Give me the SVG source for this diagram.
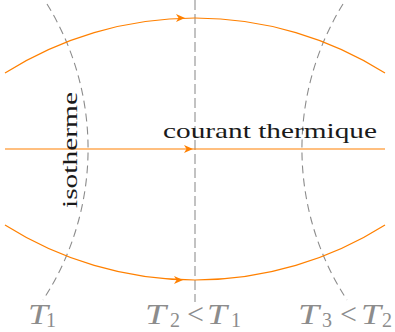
<svg xmlns="http://www.w3.org/2000/svg" width="395" height="332" viewBox="0 0 395 332">
<style>
.flow{fill:none;stroke:#ff8000;stroke-width:1.2}
.iso{fill:none;stroke:#8c8c8c;stroke-width:1.1;stroke-dasharray:8 5}
.mid{fill:none;stroke:#b3b3b3;stroke-width:1.6;stroke-dasharray:10 4}
.lbl{font-family:"Liberation Serif","Times New Roman",serif;font-size:21px;fill:#1a1a1a}
.tl{font-family:"Liberation Serif","Times New Roman",serif;font-size:30px;fill:#8c8c8c}
.ti{font-style:italic}
.sub{font-size:20px}
.head{fill:#ff8000}
</style>
<defs>
<path id="ah" d="M0,0 L-9,-4 L-6.5,0 L-9,4 Z"/>
</defs>
<g id="isotherms">
<path id="iso1" class="iso" d="M47,4 A276,276 0 0 1 43,300"/>
<path id="iso2" class="mid" d="M195,0 L195,302"/>
<path id="iso3" class="iso" d="M343,4 A276,276 0 0 0 347,300"/>
</g>
<g id="connectors">
<path class="flow" d="M5,73 A355.7,355.7 0 0 1 385,73"/>
<path class="flow" d="M5,149 L385,149"/>
<path class="flow" d="M5,225 A355.7,355.7 0 0 0 385,225"/>
<use href="#ah" class="head" x="185" y="18"/>
<use href="#ah" class="head" x="193" y="149"/>
<use href="#ah" class="head" x="183" y="280"/>
</g>
<g id="label-courant">
<text class="lbl" x="163" y="138" textLength="214" lengthAdjust="spacingAndGlyphs">courant thermique</text>
</g>
<g id="label-isotherme">
<text class="lbl" transform="translate(77,150) rotate(-90)" x="0" y="0" text-anchor="middle" textLength="116" lengthAdjust="spacingAndGlyphs">isotherme</text>
</g>
<g id="label-T1" class="tl">
<text class="ti" x="28" y="324" textLength="20" lengthAdjust="spacingAndGlyphs">T</text>
<text class="sub" x="46" y="327">1</text>
</g>
<g id="label-T2" class="tl">
<text class="ti" x="145" y="324" textLength="21" lengthAdjust="spacingAndGlyphs">T</text>
<text class="sub" x="170" y="327">2</text>
<text x="187" y="324">&lt;</text>
<text class="ti" x="207" y="324" textLength="20" lengthAdjust="spacingAndGlyphs">T</text>
<text class="sub" x="231" y="327">1</text>
</g>
<g id="label-T3" class="tl">
<text class="ti" x="298" y="324" textLength="21" lengthAdjust="spacingAndGlyphs">T</text>
<text class="sub" x="322" y="327">3</text>
<text x="340" y="324">&lt;</text>
<text class="ti" x="361" y="324" textLength="20" lengthAdjust="spacingAndGlyphs">T</text>
<text class="sub" x="382" y="327">2</text>
</g>
</svg>
